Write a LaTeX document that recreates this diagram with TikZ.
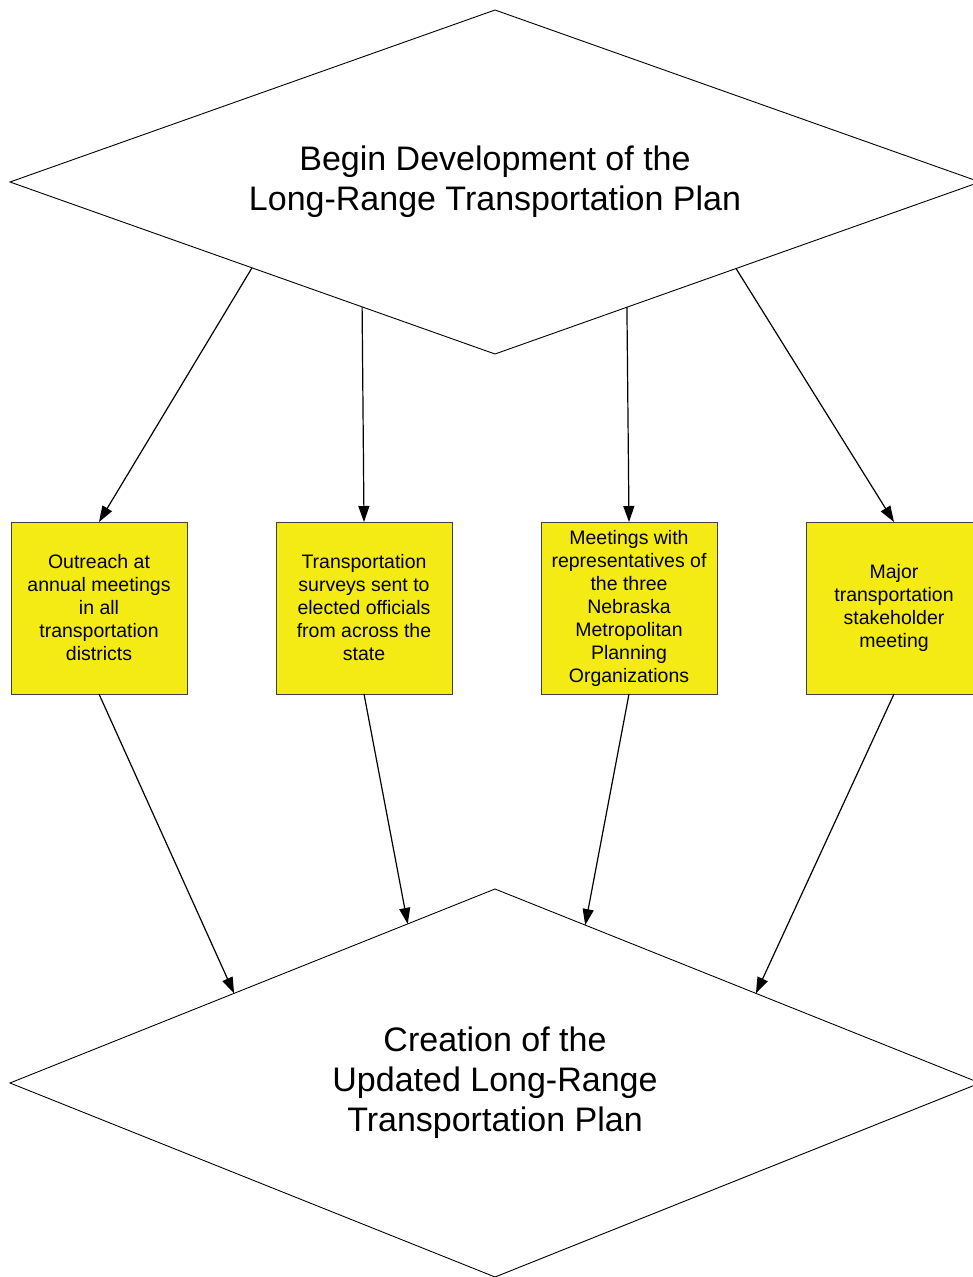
\documentclass[tikz,border=0pt]{standalone}
\usepackage{fontspec}
\setmainfont{Liberation Sans}
\usetikzlibrary{shapes.geometric,arrows.meta,calc}
\definecolor{boxyellow}{HTML}{F5EB14}
\begin{document}
\begin{tikzpicture}[x=1pt,y=-1pt,
  dia/.style={diamond,draw=black,line width=0.9pt,inner sep=0pt,outer sep=0pt,
    minimum width=970pt,minimum height=344pt,aspect=2.82,align=center,
    font=\fontsize{34}{40}\selectfont},
  stepbox/.style={rectangle,draw=black!75,line width=0.9pt,fill=boxyellow,
    minimum width=176pt,minimum height=172pt,inner sep=0pt,outer sep=0pt,align=center,
    font=\fontsize{19.5}{23}\selectfont},
  arr/.style={draw=black,line width=1.2pt,-{Triangle[length=16pt,width=11pt]}}]
\useasboundingbox (0,0) rectangle (973,1277);
\node[dia] (top) at (495,182) {Begin Development of the\\Long-Range Transportation Plan};
\node[dia,minimum height=388pt,aspect=2.5] (bot) at (495,1083) {Creation of the\\Updated Long-Range\\Transportation Plan};
\node[stepbox] (b1) at (99,608) {Outreach at\\annual meetings\\in all\\transportation\\districts};
\node[stepbox] (b2) at (364,608) {Transportation\\surveys sent to\\elected officials\\from across the\\state};
\node[stepbox] (b3) at (629,608) {Meetings with\\representatives of\\the three\\Nebraska\\Metropolitan\\Planning\\Organizations};
\node[stepbox] (b4) at (894,608) {Major\\transportation\\stakeholder\\meeting};
\coordinate (s1) at ($(top.west)!0.499!(top.south)$);
\coordinate (s2) at ($(top.west)!0.726!(top.south)$);
\coordinate (s3) at ($(top.east)!0.728!(top.south)$);
\coordinate (s4) at ($(top.east)!0.503!(top.south)$);
\coordinate (e1) at ($(bot.west)!0.462!(bot.north)$);
\coordinate (e2) at ($(bot.west)!0.82!(bot.north)$);
\coordinate (e3) at ($(bot.east)!0.814!(bot.north)$);
\coordinate (e4) at ($(bot.east)!0.462!(bot.north)$);
\draw[arr] (s1) -- (b1.north);
\draw[arr] (s2) -- (b2.north);
\draw[arr] (s3) -- (b3.north);
\draw[arr] (s4) -- (b4.north);
\draw[arr] (b1.south) -- (e1);
\draw[arr] (b2.south) -- (e2);
\draw[arr] (b3.south) -- (e3);
\draw[arr] (b4.south) -- (e4);
\end{tikzpicture}
\end{document}
